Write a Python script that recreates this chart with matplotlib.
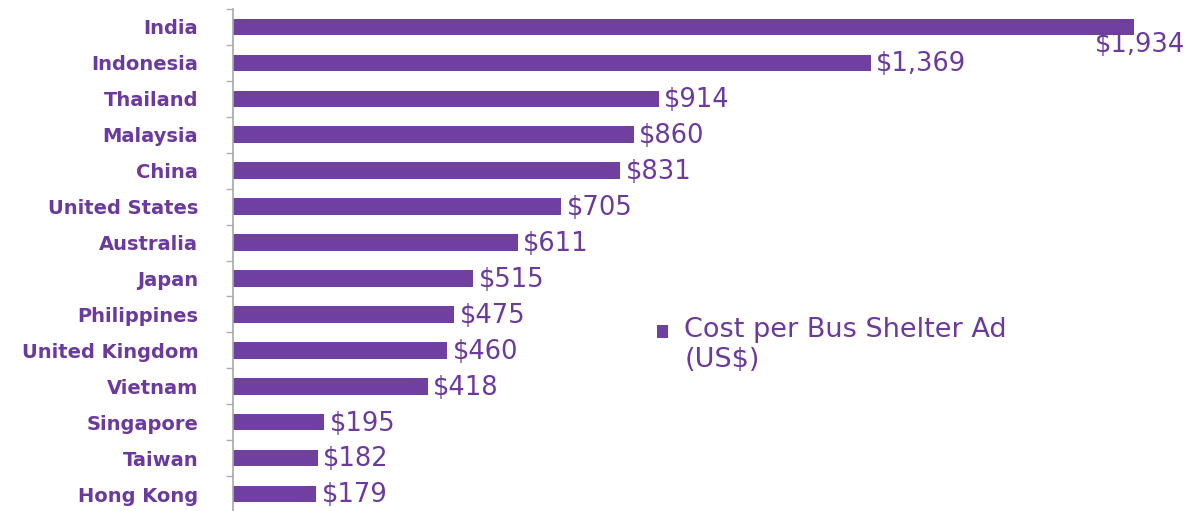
import matplotlib
matplotlib.use('Agg')
import matplotlib.pyplot as plt
from matplotlib.patches import Patch

# Cost of a bus shelter ad by market, US$
countries = ['India', 'Indonesia', 'Thailand', 'Malaysia', 'China', 'United States',
             'Australia', 'Japan', 'Philippines', 'United Kingdom', 'Vietnam',
             'Singapore', 'Taiwan', 'Hong Kong']
costs = [1934, 1369, 914, 860, 831, 705, 611, 515, 475, 460, 418, 195, 182, 179]
series_name = 'Cost per Bus Shelter Ad\n(US$)'

bar_color = '#7040A0'
text_color = '#6A3A9C'

plt.rcParams['font.family'] = ['DejaVu Sans']

fig = plt.figure(figsize=(11.99, 5.11), dpi=100)
ax = fig.add_axes([233 / 1199, -1 / 511, 966 / 1199, 503 / 511])

y = list(range(len(countries)))
bars = ax.barh(y, costs, height=0.46, color=bar_color, zorder=2)
ax.set_xlim(0, 1934 * 966 / 901)
ax.set_ylim(len(countries) - 0.5, -0.5)

# category labels on the left, small ticks between the categories
ax.set_yticks(y)
ax.set_yticklabels(countries, fontsize=14, fontweight='bold', color=text_color)
ax.tick_params(axis='y', which='major', length=0, pad=25)
ax.set_yticks([i - 0.5 for i in range(len(countries) + 1)], minor=True)
ax.tick_params(axis='y', which='minor', length=5, width=1, color='#B0B0B0')
ax.xaxis.set_visible(False)
for side in ['top', 'right', 'bottom']:
    ax.spines[side].set_visible(False)
ax.spines['left'].set_color('#A8A8A8')
ax.spines['left'].set_linewidth(1.2)

# value labels; the longest bar gets its label tucked below the end
for i, v in enumerate(costs):
    label = f'${v:,}'
    if i == 0:
        ax.annotate(label, (v, i), xytext=(37, -13), textcoords='offset points',
                    ha='right', va='center', fontsize=18.5, color=text_color)
    else:
        ax.annotate(label, (v, i), xytext=(4, -1), textcoords='offset points',
                    ha='left', va='center', fontsize=18.5, color=text_color)

handle = Patch(facecolor=bar_color, edgecolor='none')
leg = fig.legend([handle], [series_name], loc='upper left',
                 bbox_to_anchor=(657 / 1199, 1 - 317 / 511), frameon=False,
                 fontsize=19.5, handlelength=0.41, handleheight=0.41,
                 handletextpad=0.6, borderpad=0, borderaxespad=0,
                 labelcolor=text_color)
# keep the square level with the first line of the label
sq = leg.legend_handles[0]
sq.set_y(sq.get_y() + 10)

fig.savefig('out.png', dpi=100)
